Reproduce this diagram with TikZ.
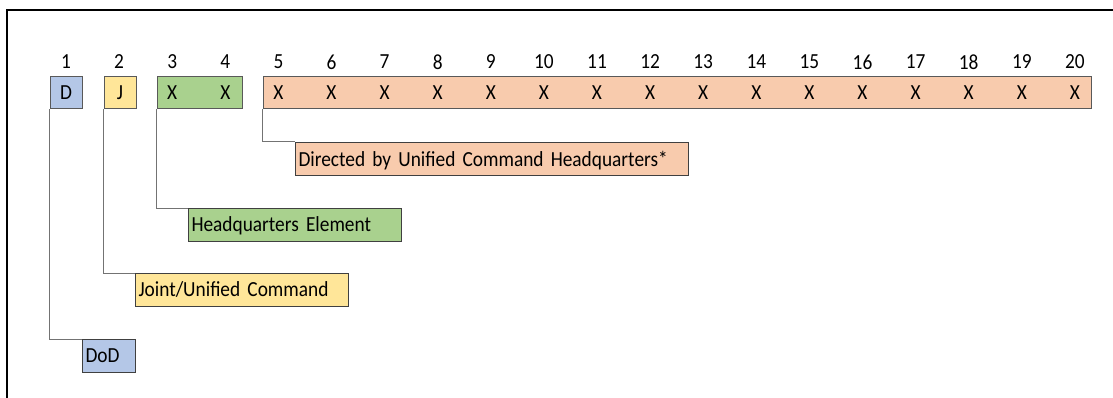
\documentclass[tikz,border=0pt]{standalone}
\usepackage{fontspec}
\setmainfont{Carlito}[FakeStretch=0.9, WordSpace=0.7]
\usetikzlibrary{positioning}
\definecolor{dodblue}{HTML}{B4C7E7}
\definecolor{jointyellow}{HTML}{FFE699}
\definecolor{hqgreen}{HTML}{A9D18E}
\definecolor{ucorange}{HTML}{F8CBAD}
\tikzset{
  codebox/.style={draw=black!65, line width=1pt, minimum height=32pt, inner sep=0pt},
  labelbox/.style={draw=black!75, line width=1pt, minimum height=33pt, anchor=north west, align=left, inner xsep=3pt, inner ysep=0pt, text depth=1pt},
  connector/.style={draw=black!55, line width=1pt},
}
\begin{document}
\begin{tikzpicture}[x=1pt, y=-1pt, font=\fontsize{21.5}{25}\selectfont] %Desenho em pixels
	\useasboundingbox (0,0) rectangle (1113,398);
		%Moldura
	\draw[line width=2.8pt] (7,398) -- (7,10) -- (1113,10);
		%Numeros das posicoes
	\foreach \i in {1,...,20}
		\node (num\i) at ({66+(\i-1)*53.1},62) {\i};
		%Caixas do codigo
	\node[codebox, fill=dodblue, minimum width=32pt] (dbox) at (66,93) {D};
	\node[codebox, fill=jointyellow, minimum width=32pt] (jbox) at (120,93) {J};
	\node[codebox, fill=hqgreen, minimum width=85pt] (hqbox) at (199.5,93) {};
	\node[codebox, fill=ucorange, minimum width=828pt] (ucbox) at (677,93) {};
	\foreach \i in {3,...,20}
		\node (x\i) at ({66+(\i-1)*53.1},93) {X};
		%Caixas de descricao
	\node[labelbox, fill=ucorange, text width=387pt] (uclabel) at (295,142) {Directed by Unified Command Headquarters*};
	\node[labelbox, fill=hqgreen, text width=207pt] (hqlabel) at (188,208) {Headquarters Element};
	\node[labelbox, fill=jointyellow, text width=207pt] (jlabel) at (135,273) {Joint/Unified Command};
	\node[labelbox, fill=dodblue, text width=47pt] (dodlabel) at (82,339) {DoD};
		%Ligacoes
	\draw[connector] (ucbox.south west) |- (uclabel.north west);
	\draw[connector] (hqbox.south west) |- (hqlabel.north west);
	\draw[connector] (jbox.south west) |- (jlabel.north west);
	\draw[connector] (dbox.south west) |- (dodlabel.north west);
\end{tikzpicture}
\end{document}
